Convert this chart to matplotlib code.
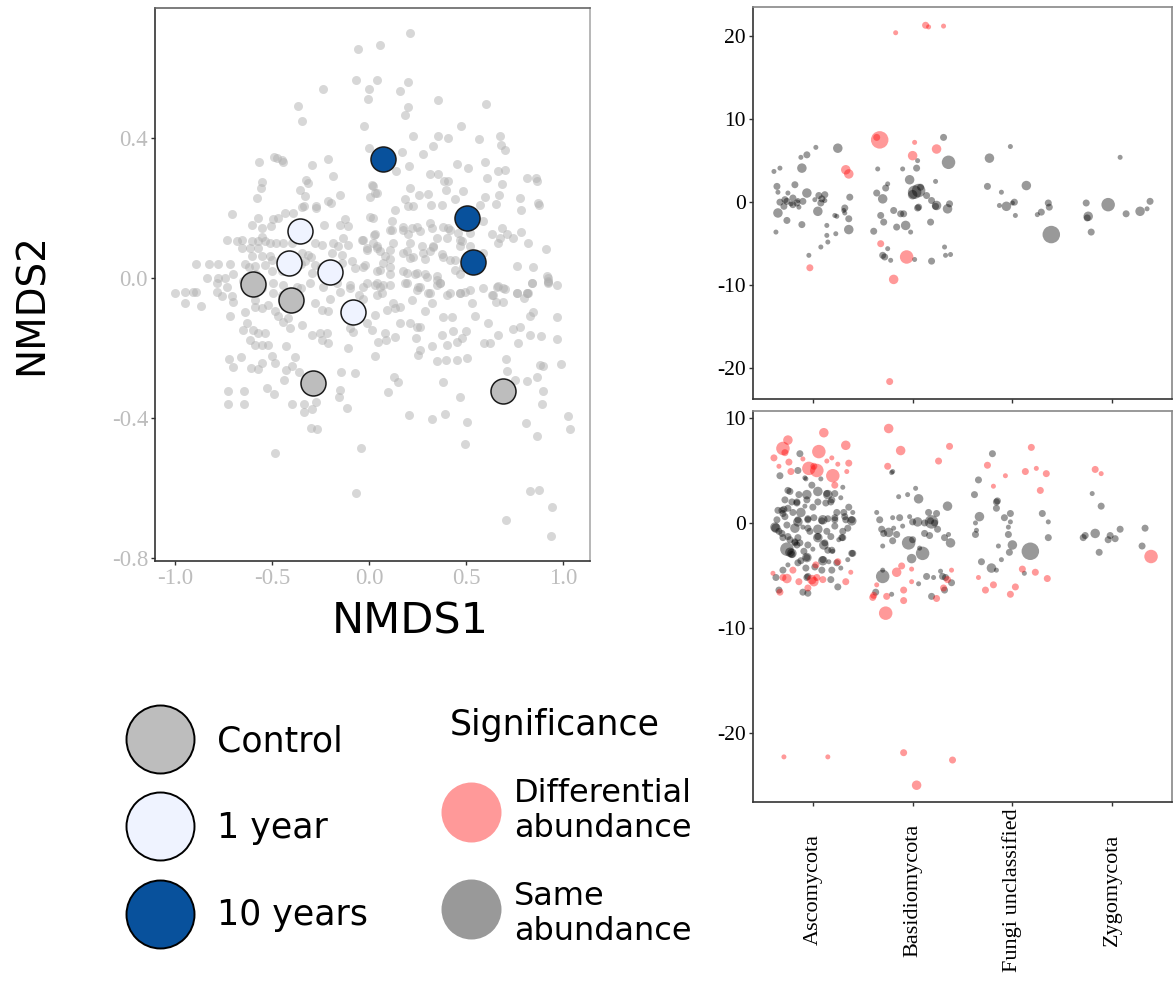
import numpy as np
import matplotlib
matplotlib.use("Agg")
import matplotlib.pyplot as plt

W, H = 1176, 982
SERIF = "Liberation Serif"
SANS = "DejaVu Sans"

# ---------------- NMDS data ----------------
bg_points = [
    (-0.057,0.654),(-0.067,0.566),(0.0,0.54),(-0.005,0.511),(-0.237,0.54),(-0.366,0.491),(-0.345,0.449),(-0.026,0.434),
    (0.0,0.371),(-0.567,0.331),(-0.49,0.346),(-0.475,0.343),(-0.443,0.331),(-0.45,0.337),(-0.294,0.323),(-0.211,0.34),
    (-0.186,0.291),(-0.325,0.28),(-0.315,0.27),(-0.55,0.274),(-0.556,0.258),(-0.356,0.251),(-0.33,0.234),(-0.577,0.229),
    (-0.211,0.22),(-0.195,0.215),(-0.149,0.237),(-0.273,0.206),(-0.275,0.2),(-0.345,0.203),(-0.335,0.206),(-0.706,0.183),
    (-0.572,0.171),(-0.495,0.169),(-0.47,0.172),(-0.433,0.186),(-0.39,0.186),(-0.603,0.151),(-0.552,0.143),(-0.505,0.149),
    (-0.232,0.151),(-0.15,0.151),(-0.124,0.169),(-0.108,0.149),(-0.732,0.109),(-0.68,0.106),(-0.655,0.109),(-0.603,0.106),
    (-0.572,0.106),(-0.536,0.106),(-0.552,0.117),(-0.51,0.1),(-0.48,0.1),(-0.443,0.1),(-0.397,0.1),(-0.278,0.1),
    (-0.242,0.094),(-0.186,0.1),(-0.16,0.091),(-0.134,0.114),(-0.108,0.094),(-0.036,0.109),(-0.01,0.086),(-0.655,0.086),
    (-0.613,0.086),(-0.572,0.086),(-0.552,0.063),(-0.51,0.063),(-0.603,0.063),(-0.892,0.04),(-0.825,0.04),(-0.778,0.04),
    (-0.716,0.04),(-0.835,0.0),(-0.778,0.0),(-0.742,0.0),(-0.64,0.04),(-0.59,0.034),(-0.536,0.037),(-0.5,0.02),
    (-0.33,0.049),(-0.278,0.037),(-0.294,0.014),(-0.139,0.043),(-0.088,0.049),(-0.072,0.029),(-0.02,0.037),(-0.19,0.071),
    (-0.139,0.066),(-0.345,0.071),(-0.314,0.066),
    (0.211,0.7),(0.058,0.666),(0.043,0.566),(0.201,0.561),(0.16,0.533),(0.354,0.507),(0.605,0.497),(0.2,0.489),
    (0.186,0.466),(0.474,0.433),(0.228,0.406),(0.354,0.406),(0.409,0.4),(0.565,0.398),(0.675,0.405),(0.679,0.381),
    (0.701,0.364),(0.332,0.378),(0.28,0.355),(0.168,0.36),(0.204,0.321),(0.137,0.306),(0.455,0.325),(0.508,0.314),
    (0.598,0.331),(0.314,0.298),(0.354,0.298),(0.387,0.276),(0.409,0.278),(0.667,0.305),(0.701,0.307),(0.61,0.286),
    (0.813,0.286),(0.859,0.286),(0.864,0.276),(0.211,0.257),(0.395,0.25),(0.486,0.248),(0.687,0.267),(0.259,0.238),
    (0.306,0.241),(0.022,0.262),(0.031,0.243),(0.186,0.224),(0.203,0.205),(0.228,0.205),(0.318,0.209),(0.375,0.209),
    (0.443,0.225),(0.598,0.231),(0.655,0.211),(0.672,0.238),(0.778,0.228),(0.783,0.193),(0.873,0.214),(0.876,0.208),
    (0.134,0.193),(0.572,0.209),(0.022,0.171),(0.117,0.162),(0.177,0.145),(0.22,0.143),(0.263,0.133),(0.323,0.143),
    (0.409,0.143),(0.46,0.127),(0.4,0.114),(0.349,0.114),(0.589,0.162),(0.632,0.124),(0.684,0.143),(0.675,0.114),
    (0.71,0.124),(0.744,0.114),(0.782,0.131),(0.031,0.124),(0.117,0.138),(0.203,0.124),(0.022,0.1),(0.039,0.09),
    (0.122,0.1),(0.211,0.1),(0.271,0.09),(0.332,0.09),(0.478,0.105),(0.469,0.09),(0.52,0.09),(0.667,0.1),
    (0.821,0.1),(0.911,0.082),(0.057,0.076),(0.082,0.063),(0.108,0.053),(0.194,0.076),(0.211,0.057),(0.289,0.053),
    (0.314,0.076),(0.375,0.067),(0.443,0.05),(0.589,0.071),(0.761,0.035),(0.847,0.03),(0.915,0.005),(0.924,0.0),
    (0.177,0.019),(0.237,0.01),(0.289,0.01),(0.349,0.005),(0.443,0.023),(0.469,0.01),(0.108,0.01),(0.04,0.02),
    (0.015,0.266),(0.041,0.243),(0.005,0.231),(-0.031,0.109),(0.005,0.174),(0.026,0.123),(-0.01,0.08),(0.041,0.086),
    (0.072,0.043),(-0.031,0.031),(0.108,0.137),(0.175,0.137),(0.247,0.146),(0.314,0.157),(0.381,0.146),(0.418,0.137),
    (0.469,0.109),(0.521,0.129),(0.108,0.08),(0.175,0.071),(0.227,0.06),(0.278,0.071),(0.33,0.089),(0.381,0.06),
    (0.418,0.051),(0.485,0.031),(0.196,0.014),(0.247,0.014),(0.299,0.003),(0.35,-0.006),(0.108,0.031),(0.057,0.023),
    (-0.784,-0.014),(-0.732,-0.026),(-0.629,-0.014),(-0.562,-0.02),(-0.495,-0.014),(-0.443,-0.02),(-0.371,-0.026),
    (-0.304,-0.014),(-0.237,-0.026),(-0.165,-0.014),(-0.098,-0.02),(-0.031,-0.026),(0.041,-0.014),(0.108,-0.02),
    (0.196,-0.014),(0.263,-0.026),(0.314,-0.043),(0.366,-0.014),(0.469,-0.043),(0.521,-0.034),(0.639,-0.049),
    (0.691,-0.029),(0.763,-0.043),(0.814,-0.043),(0.84,-0.014),(0.923,-0.014),(-0.01,-0.014),(0.057,-0.026),
    (0.247,-0.034),(0.35,-0.02),(0.418,-0.043),(0.495,-0.04),(0.588,-0.029),(0.66,-0.026),(0.82,-0.043),(0.923,-0.011),
    (-0.62,0.03),(-0.5,0.05),(-0.45,0.02),(-0.35,0.04),(-0.3,0.06),(-0.25,0.03),(-0.55,-0.03),(-0.45,-0.05),
    (-0.35,-0.03),(-0.15,-0.04),(-0.05,-0.05),(-0.2,-0.06),(-0.1,-0.03),(-0.65,-0.01),(-0.7,0.01),(-0.58,0.01),
    (-1.0,-0.044),(-0.948,-0.039),(-0.905,-0.039),(-0.893,-0.039),(-0.95,-0.072),(-0.866,-0.08),(-0.785,-0.039),
    (-0.76,-0.052),(-0.707,-0.052),(-0.699,-0.068),(-0.716,-0.109),(-0.639,-0.098),(-0.588,-0.063),(-0.588,-0.082),
    (-0.553,-0.087),(-0.519,-0.077),(-0.493,-0.044),(-0.485,-0.096),(-0.467,-0.11),(-0.442,-0.125),(-0.416,-0.115),
    (-0.63,-0.13),(-0.648,-0.149),(-0.596,-0.149),(-0.57,-0.158),(-0.536,-0.158),(-0.613,-0.177),(-0.588,-0.192),
    (-0.553,-0.192),(-0.519,-0.192),(-0.407,-0.144),(-0.347,-0.134),(-0.295,-0.163),(-0.252,-0.158),(-0.218,-0.158),
    (-0.244,-0.177),(-0.209,-0.185),(-0.278,-0.072),(-0.244,-0.091),(-0.209,-0.096),(-0.429,-0.194),(-0.109,-0.201),
    (-0.72,-0.232),(-0.703,-0.255),(-0.661,-0.225),(-0.61,-0.258),(-0.57,-0.261),(-0.55,-0.244),(-0.502,-0.223),
    (-0.482,-0.242),(-0.429,-0.263),(-0.398,-0.252),(-0.381,-0.225),(-0.359,-0.269),(-0.438,-0.293),(-0.146,-0.27),
    (-0.072,-0.271),(-0.728,-0.323),(-0.643,-0.323),(-0.526,-0.315),(-0.488,-0.331),(-0.149,-0.32),(-0.155,-0.339),
    (-0.728,-0.361),(-0.643,-0.361),(-0.397,-0.359),(-0.337,-0.36),(-0.333,-0.382),(-0.295,-0.374),(-0.273,-0.355),
    (-0.115,-0.373),(-0.299,-0.428),(-0.266,-0.432),(-0.483,-0.499),(-0.041,-0.487),(-0.067,-0.616),
    (-0.01,-0.129),(0.031,-0.106),(-0.098,-0.143),(-0.08,-0.154),(-0.06,-0.08),(-0.03,-0.06),
    (0.031,-0.02),(0.074,-0.02),(0.04,-0.049),(0.065,-0.044),(0.091,-0.091),(0.134,-0.087),(0.16,-0.082),(0.125,-0.072),
    (0.186,-0.015),(0.254,-0.025),(0.306,-0.044),(0.323,-0.072),(0.366,-0.015),(0.22,-0.063),(0.289,-0.096),
    (0.246,-0.139),(0.263,-0.139),(0.211,-0.13),(0.16,-0.13),(0.014,-0.149),(0.082,-0.158),(0.048,-0.182),(0.088,-0.177),
    (0.134,-0.168),(0.031,-0.223),(0.242,-0.172),(0.263,-0.206),(0.254,-0.22),(0.323,-0.196),(0.377,-0.163),
    (0.402,-0.192),(0.431,-0.153),(0.452,-0.182),(0.478,-0.172),(0.5,-0.153),(0.349,-0.237),(0.397,-0.234),
    (0.452,-0.234),(0.503,-0.23),(0.38,-0.113),(0.426,-0.113),(0.4,-0.049),(0.469,-0.044),(0.529,-0.072),(0.546,-0.11),
    (0.615,-0.13),(0.663,-0.163),(0.594,-0.187),(0.624,-0.187),(0.632,-0.049),(0.655,-0.068),(0.692,-0.068),
    (0.663,-0.023),(0.701,-0.032),(0.761,-0.044),(0.799,-0.058),(0.813,-0.042),(0.744,-0.147),(0.778,-0.141),
    (0.83,-0.109),(0.844,-0.098),(0.766,-0.185),(0.83,-0.163),(0.887,-0.166),(0.967,-0.113),(0.971,-0.174),
    (0.704,-0.233),(0.713,-0.265),(0.753,-0.293),(0.816,-0.296),(0.864,-0.284),(0.881,-0.248),(0.899,-0.251),
    (0.899,-0.323),(0.988,-0.246),(0.1,-0.325),(0.131,-0.282),(0.148,-0.298),(0.38,-0.297),(0.471,-0.341),
    (0.206,-0.392),(0.323,-0.404),(0.39,-0.39),(0.503,-0.411),(0.497,-0.474),(0.892,-0.361),(0.808,-0.416),
    (0.864,-0.452),(1.027,-0.394),(1.036,-0.432),(0.83,-0.61),(0.876,-0.606),(0.943,-0.656),(0.704,-0.692),
    (0.94,-0.737),(0.967,-0.02),(0.924,-0.01),(0.838,-0.015),
]
bg_x = [p[0] for p in bg_points]
bg_y = [p[1] for p in bg_points]

groups = ["Control", "1 year", "10 years"]
group_colors = {"Control": "#bdbdbd", "1 year": "#eff3ff", "10 years": "#08519c"}
sample_group = ["Control"] * 4 + ["1 year"] * 4 + ["10 years"] * 3
sample_x = [-0.60, -0.40, -0.29, 0.69, -0.356, -0.41, -0.20, -0.08, 0.07, 0.505, 0.536]
sample_y = [-0.017, -0.063, -0.30, -0.323, 0.134, 0.043, 0.017, -0.097, 0.34, 0.171, 0.046]

# ---------------- Fold-change data ----------------
phyla = ["Ascomycota", "Basidiomycota", "Fungi unclassified", "Zygomycota"]

# (jittered x, log2 fold change, abundance class, significant)
top_points = [
    (1.83,20.4,1,1),(2.13,21.3,2,1),(2.16,21.1,1,1),(2.31,21.2,1,1),
    (1.67,7.5,5,1),(1.64,7.8,2,1),(2.02,7.2,1,1),(2.00,5.6,3,1),(2.24,6.4,3,1),
    (1.33,3.9,3,1),(1.36,3.4,3,1),(0.97,-7.9,2,1),(1.68,-5.0,2,1),(1.81,-9.3,3,1),
    (1.94,-6.6,4,1),(1.77,-21.6,2,1),
    (0.61,3.7,1,0),(0.67,4.1,1,0),(0.89,4.1,3,0),(1.03,6.6,1,0),(0.88,5.4,1,0),(0.94,5.7,2,0),(1.25,6.5,3,0),
    (0.64,1.9,2,0),(0.65,1.2,1,0),(0.82,2.1,2,0),(0.75,1.1,1,0),(0.67,0.0,2,0),(0.94,1.1,3,0),
    (1.06,0.8,2,0),(1.09,0.4,2,0),(1.12,0.9,2,0),(1.08,-0.1,2,0),(1.12,0.2,1,0),(1.02,0.3,1,0),
    (1.37,0.6,2,0),(1.65,4.0,1,0),(1.64,1.1,2,0),(1.73,1.7,2,0),(1.75,2.2,1,0),(1.70,0.4,3,0),
    (1.90,4.0,1,0),(1.97,2.7,3,0),(2.04,4.1,2,0),(2.05,5.0,1,0),(2.02,1.2,4,0),(2.06,1.4,4,0),
    (2.23,2.5,1,0),(2.31,7.8,2,0),(2.36,4.8,4,0),(2.14,0.8,2,0),(2.19,0.2,2,0),
    (2.75,1.9,2,0),(2.77,5.3,3,0),(2.98,6.7,1,0),(2.89,1.2,1,0),(3.14,2.0,3,0),(4.08,5.4,1,0),
    (3.96,-0.3,4,0),(4.38,0.1,2,0),
    (0.84,-0.1,2,0),(0.80,-0.3,2,0),(0.86,-0.6,1,0),(0.78,-0.2,1,0),(0.90,0.1,2,0),(0.74,0.1,2,0),
    (0.72,0.3,2,0),(0.80,0.5,2,0),(0.85,0.2,1,0),(0.71,-0.5,2,0),
    (0.65,-1.3,3,0),(0.74,-2.2,2,0),(0.63,-3.6,1,0),(0.89,-2.7,2,0),(1.05,-1.1,3,0),(1.14,-4.0,1,0),
    (1.23,-3.8,1,0),(1.14,-2.8,1,0),(1.22,-1.6,1,0),(1.24,-1.7,1,0),(1.32,-1.3,1,0),(1.31,-1.0,1,0),
    (1.32,-0.7,2,0),(1.36,-2.0,2,0),(1.36,-3.3,3,0),(1.08,-5.4,1,0),(0.96,-6.4,1,0),(1.15,-4.8,1,0),
    (1.61,-3.5,2,0),(1.68,-1.6,2,0),(1.71,-2.4,2,0),(1.70,-6.4,2,0),(1.72,-6.6,2,0),(1.75,-5.6,1,0),
    (1.78,-7.0,1,0),(1.81,-1.0,2,0),(1.88,-1.4,2,0),(1.91,-1.4,2,0),(1.93,-2.8,3,0),(1.84,-3.0,2,0),
    (1.98,-3.6,1,0),(2.02,-6.9,1,0),(2.05,-0.7,2,0),(2.06,-0.6,2,0),(2.00,0.9,3,0),(2.08,1.8,2,0),
    (2.18,-2.4,2,0),(2.19,-7.1,2,0),(2.24,-0.4,3,0),(2.23,-0.5,2,0),(2.35,-0.8,3,0),(2.32,-5.4,1,0),
    (2.33,-6.4,1,0),(2.38,-6.3,1,0),(2.37,-0.2,2,0),
    (2.87,-0.4,1,0),(2.94,-0.5,3,0),(3.03,-1.6,1,0),(3.25,-1.5,1,0),(3.29,-1.2,2,0),(3.36,-0.1,2,0),
    (3.37,-0.6,2,0),(3.39,-3.9,5,0),(3.02,0.0,2,0),(3.00,-0.1,1,0),
    (3.74,-0.1,2,0),(3.76,-1.7,3,0),(3.75,-1.9,2,0),(3.79,-3.6,2,0),(4.14,-1.4,2,0),(4.28,-1.1,3,0),(4.35,-0.8,1,0),
]

bottom_points = [
    (0.61,6.2,2,1),(0.66,5.4,1,1),(0.70,7.1,4,1),(0.75,7.9,3,1),(0.76,5.8,2,1),(0.78,4.9,2,1),(0.72,6.7,2,1),
    (0.90,6.1,1,1),(0.96,5.2,4,1),(1.01,5.4,2,1),(1.04,5.0,4,1),(1.06,6.8,4,1),(1.11,8.6,3,1),(1.14,5.9,1,1),
    (1.19,6.2,1,1),(1.20,4.5,4,1),(1.22,3.6,2,1),(1.25,5.6,1,1),(1.33,7.4,3,1),(1.36,5.7,2,1),(1.34,4.9,1,1),
    (1.03,-4.0,2,1),(1.25,-3.7,2,1),(0.60,-4.8,1,1),(0.70,-5.2,2,1),(0.74,-5.3,3,1),(0.80,-4.5,2,1),
    (0.86,-5.6,2,1),(0.99,-5.4,3,1),(1.01,-5.6,3,1),(1.04,-5.2,2,1),(1.10,-5.4,2,1),(1.33,-5.6,2,1),
    (1.38,-4.7,1,1),(0.67,-6.6,2,1),(0.95,-6.2,2,1),
    (1.76,9.0,3,1),(1.88,6.9,3,1),(1.75,5.4,2,1),(2.26,5.9,2,1),(2.37,7.3,2,1),
    (1.84,-4.7,3,1),(1.89,-4.1,2,1),(1.99,-4.4,1,1),(1.99,-5.6,1,1),(2.39,-4.5,1,1),(2.35,-5.4,2,1),
    (1.64,-5.9,1,1),(1.61,-6.9,2,1),(1.60,-7.1,2,1),(1.74,-7.0,2,1),(1.91,-6.4,2,1),(1.91,-7.4,2,1),
    (2.24,-7.2,2,1),(2.31,-6.2,2,1),(1.73,-8.6,4,1),
    (2.75,5.5,2,1),(2.81,3.5,1,1),(2.93,4.5,1,1),(3.19,7.2,2,1),(3.13,4.9,2,1),(3.24,5.2,1,1),
    (3.34,4.7,2,1),(3.28,3.1,2,1),(3.10,-4.4,2,1),(3.23,-4.7,2,1),(2.66,-5.2,1,1),(2.81,-5.9,2,1),
    (2.73,-6.4,2,1),(3.03,-6.1,2,1),(2.98,-6.8,2,1),(3.35,-5.3,2,1),
    (3.83,5.1,2,1),(3.89,4.7,1,1),(4.39,-3.2,4,1),
    (0.71,-22.3,1,1),(1.15,-22.3,1,1),(1.91,-21.9,2,1),(2.04,-25.0,3,1),(2.40,-22.6,2,1),
    (0.87,6.6,2,0),(0.67,4.5,2,0),(0.93,4.2,1,0),(0.77,3.0,2,0),(0.86,2.7,2,0),(0.94,2.7,3,0),(1.05,3.0,3,0),
    (1.15,2.7,3,0),(1.22,2.8,2,0),(0.84,2.0,2,0),(0.79,2.0,2,0),(1.05,2.0,2,0),(1.13,1.9,2,0),(1.18,2.0,2,0),
    (0.75,1.4,2,0),(0.80,1.0,2,0),(0.71,1.3,2,0),(0.69,1.2,2,0),(0.64,0.3,2,0),(0.72,0.6,2,0),(0.88,1.0,3,0),
    (0.95,0.4,2,0),(1.01,0.5,2,0),(1.10,0.3,3,0),(1.09,0.2,2,0),(1.15,0.4,2,0),(1.22,0.5,2,0),(1.24,1.0,2,0),
    (1.31,1.0,2,0),(1.33,0.3,2,0),(1.39,0.2,3,0),(1.40,1.0,1,0),
    (0.63,-0.5,3,0),(0.74,-0.2,2,0),(0.85,0.1,3,0),(0.82,-0.5,3,0),(0.90,-0.4,1,0),(0.97,-0.8,2,0),
    (1.05,-0.6,3,0),(1.05,-1.4,3,0),(1.14,-0.8,2,0),(1.22,-0.3,2,0),(1.30,-0.8,2,0),(0.69,-1.0,2,0),
    (0.70,-1.4,2,0),(0.77,-1.6,2,0),(0.82,-1.8,2,0),(0.84,-2.1,2,0),(0.85,-1.4,2,0),(0.74,-2.5,4,0),
    (0.77,-2.8,3,0),(0.79,-3.0,2,0),(0.87,-1.9,2,0),(0.91,-2.7,2,0),(0.95,-2.1,2,0),(1.00,-2.5,1,0),
    (1.11,-2.1,3,0),(1.15,-2.6,2,0),(1.20,-2.7,1,0),(1.26,-1.6,1,0),(1.30,-1.4,2,0),(1.40,-2.9,2,0),
    (0.94,-3.3,2,0),(1.10,-3.6,3,0),(1.16,-3.7,1,0),(1.09,-4.5,2,0),(1.19,-4.5,2,0),(0.93,-4.3,2,0),
    (0.63,-5.2,2,0),(0.94,-5.2,2,0),(1.18,-5.4,2,0),(1.25,-6.1,2,0),(0.66,-6.4,2,0),(0.90,-6.6,2,0),
    (0.95,-6.7,2,0),(0.70,0.9,2,0),(0.92,1.6,1,0),(1.00,1.5,2,0),(1.28,2.4,1,0),(1.36,1.5,2,0),
    (0.66,-0.8,2,0),(1.18,-1.3,2,0),(1.35,-0.5,2,0),(0.88,-3.6,2,0),(1.28,-4.3,1,0),(0.75,-4.0,1,0),
    (1.35,-3.5,1,0),(0.99,3.6,2,0),(1.08,4.2,1,0),(1.30,3.4,1,0),
    (0.85,5.0,2,0),(0.92,4.3,1,0),(0.75,3.1,2,0),(0.84,1.9,2,0),(0.72,2.2,2,0),(0.94,2.2,2,0),(1.14,2.8,2,0),
    (1.19,2.2,2,0),(1.32,0.6,2,0),(1.39,0.3,2,0),(1.22,0.3,2,0),(0.95,0.3,2,0),(0.85,0.3,2,0),(0.65,1.2,2,0),
    (0.62,-0.4,3,0),(0.75,-1.3,2,0),(0.82,-1.9,2,0),(1.05,-1.3,2,0),(1.12,-1.9,2,0),(1.19,-2.6,2,0),
    (1.39,-2.9,2,0),(1.29,-1.4,2,0),(0.95,-0.5,2,0),(0.94,-3.3,3,0),(1.10,-3.5,2,0),(1.02,-4.2,2,0),
    (0.85,-3.8,2,0),(0.79,-2.9,3,0),(1.24,-3.8,2,0),(0.70,-4.5,2,0),(0.95,-5.1,2,0),
    (1.79,4.8,1,0),(1.80,4.9,1,0),(1.86,2.5,1,0),(1.95,2.7,1,0),(2.03,3.3,1,0),(2.06,2.3,3,0),(1.64,1.0,1,0),
    (1.67,0.3,2,0),(1.69,-0.6,2,0),(1.71,-1.0,2,0),(1.76,-0.9,3,0),(1.84,-1.1,2,0),(1.80,0.5,1,0),
    (1.87,0.5,2,0),(1.80,-1.7,2,0),(1.70,-2.2,1,0),(1.96,-1.9,4,0),(2.00,-1.6,2,0),(2.05,0.1,3,0),
    (2.00,0.1,2,0),(2.10,-2.9,4,0),(2.07,-2.4,1,0),(1.99,-3.4,3,0),(2.16,1.0,2,0),(2.18,0.2,2,0),
    (2.24,0.9,2,0),(2.19,0.1,4,0),(2.12,0.0,2,0),(2.22,0.0,2,0),(2.25,-0.6,2,0),(2.12,-1.0,2,0),
    (2.17,-1.2,2,0),(2.35,1.6,3,0),(2.32,-1.4,2,0),(2.36,-1.1,1,0),(2.38,-1.9,3,0),(1.90,-0.3,1,0),
    (1.81,-0.5,1,0),(1.97,0.6,1,0),(1.70,-4.5,1,0),(1.70,-5.1,4,0),(2.14,-5.1,2,0),(2.21,-5.2,1,0),
    (2.28,-4.6,1,0),(2.30,-5.1,2,0),(2.33,-5.2,2,0),(2.39,-5.7,2,0),(1.63,-6.6,2,0),(1.79,-6.8,1,0),
    (2.06,-5.8,1,0),(2.19,-7.0,2,0),(2.32,-6.4,2,0),
    (2.80,6.6,2,0),(2.66,4.1,2,0),(2.62,2.7,2,0),(2.84,2.0,2,0),(2.85,2.1,2,0),(2.84,1.4,2,0),(2.67,0.6,3,0),
    (2.63,0.0,1,0),(2.64,-0.7,1,0),(2.63,-1.1,2,0),(2.92,0.5,2,0),(2.98,0.9,2,0),(2.98,0.1,1,0),
    (2.96,-0.4,1,0),(2.96,-1.1,2,0),(3.00,-2.1,3,0),(2.97,-2.8,2,0),(2.86,-2.2,1,0),(2.89,-3.5,1,0),
    (2.69,-3.7,2,0),(2.79,-4.3,3,0),(2.84,-4.5,1,0),(3.18,-2.7,5,0),(3.30,0.9,2,0),(3.36,0.1,1,0),
    (3.36,-1.4,2,0),(3.12,-4.8,1,0),
    (3.80,2.8,1,0),(3.89,1.6,2,0),(3.71,-1.4,2,0),(3.73,-1.2,2,0),(3.83,-1.0,3,0),(3.87,-2.8,2,0),
    (3.96,-1.6,2,0),(3.98,-1.2,2,0),(4.03,-1.5,2,0),(4.08,-0.6,2,0),(4.33,-0.5,2,0),(4.30,-2.2,2,0),
]

# ---------------- helpers ----------------
size_diam_px = {1: 5.0, 2: 7.0, 3: 9.5, 4: 13.5, 5: 17.5}
def area(cls):
    return (size_diam_px[cls] * 0.72) ** 2

def px_axes(fig, l, t, r, b):
    return fig.add_axes([l / W, 1 - b / H, (r - l) / W, (b - t) / H])

fig = plt.figure(figsize=(W / 100, H / 100), dpi=100)
fig.patch.set_facecolor("white")

# ---------------- NMDS panel ----------------
ax = px_axes(fig, 155, 8, 590, 561)
ax.scatter(bg_x, bg_y, s=(9 * 0.72) ** 2, color="#b0b0b0", alpha=0.5, linewidths=0, zorder=2)
for g in groups:
    xs = [x for x, gg in zip(sample_x, sample_group) if gg == g]
    ys = [y for y, gg in zip(sample_y, sample_group) if gg == g]
    ax.scatter(xs, ys, s=(25 * 0.72) ** 2, color=group_colors[g], edgecolors="#1a1a1a",
               linewidths=1.1, zorder=3)
ax.set_xlim(-1.103, 1.139)
ax.set_ylim(-0.809, 0.771)
ax.set_xticks([-1.0, -0.5, 0.0, 0.5, 1.0])
ax.set_xticklabels(["-1.0", "-0.5", "0.0", "0.5", "1.0"])
ax.set_yticks([-0.8, -0.4, 0.0, 0.4])
ax.set_yticklabels(["-0.8", "-0.4", "0.0", "0.4"])
ax.tick_params(length=3, width=1, color="#333333", labelcolor="#bdbdbd", labelsize=16.5, pad=2)
for lab in ax.get_xticklabels() + ax.get_yticklabels():
    lab.set_fontfamily(SERIF)
ax.spines["left"].set_color("#333333")
ax.spines["bottom"].set_color("#333333")
ax.spines["top"].set_color("#666666")
ax.spines["right"].set_color("#aaaaaa")
for sp in ax.spines.values():
    sp.set_linewidth(1.2)
fig.text(410 / W, 1 - 622 / H, "NMDS1", fontsize=31, family=SANS, ha="center", va="center")
fig.text(32 / W, 1 - 304 / H, "NMDS2", fontsize=28, family=SANS, ha="center", va="center", rotation=90)

# ---------------- fold-change panels ----------------
def fc_panel(l, t, r, b, pts, ylim, yticks):
    a = px_axes(fig, l, t, r, b)
    for sig, col in [(0, "black"), (1, "red")]:
        sel = [p for p in pts if p[3] == sig]
        a.scatter([p[0] for p in sel], [p[1] for p in sel], s=[area(p[2]) for p in sel],
                  color=col, alpha=0.4, linewidths=0, zorder=2)
    a.set_xlim(0.4, 4.6)
    a.set_ylim(*ylim)
    a.set_xticks(range(1, len(phyla) + 1))
    a.set_xticklabels([])
    a.set_yticks(yticks)
    a.set_yticklabels([str(v) for v in yticks])
    a.tick_params(length=3, width=1, color="#333333", labelsize=15.5, pad=2)
    for lab in a.get_yticklabels():
        lab.set_fontfamily(SERIF)
    a.spines["left"].set_color("#333333")
    a.spines["bottom"].set_color("#333333")
    a.spines["top"].set_color("#888888")
    a.spines["right"].set_color("#888888")
    for sp in a.spines.values():
        sp.set_linewidth(1.2)
    return a

ax_top = fc_panel(753, 7, 1172, 399, top_points, (-23.7, 23.5), [-20, -10, 0, 10, 20])
ax_bot = fc_panel(753, 411, 1172, 802, bottom_points, (-26.6, 10.67), [-20, -10, 0, 10])
for i, name in enumerate(phyla, start=1):
    ax_bot.text(i, -0.225, name, transform=ax_bot.get_xaxis_transform(), rotation=90,
                ha="center", va="center", fontsize=16, family=SERIF)

# ---------------- legends ----------------
lg = fig.add_axes([0, 0, 1, 1], zorder=-1)
lg.set_xlim(0, W)
lg.set_ylim(H, 0)
lg.axis("off")
leg_y = [739, 826, 914]
for g, yy in zip(groups, leg_y):
    lg.scatter([160], [yy], s=(68 * 0.72) ** 2, color=group_colors[g], edgecolors="black", linewidths=1.4)
lg.text(217, 752, "Control", fontsize=25, family=SANS, va="baseline")
lg.text(217, 838, "1 year", fontsize=25, family=SANS, va="baseline")
lg.text(217, 925, "10 years", fontsize=25, family=SANS, va="baseline")
lg.text(450, 735, "Significance", fontsize=25, family=SANS, va="baseline")
lg.scatter([471], [812], s=(60 * 0.72) ** 2, color="red", alpha=0.4, linewidths=0)
lg.scatter([471], [909], s=(60 * 0.72) ** 2, color="black", alpha=0.4, linewidths=0)
lg.text(514, 802, "Differential", fontsize=23, family=SANS, va="baseline")
lg.text(514, 837, "abundance", fontsize=23, family=SANS, va="baseline")
lg.text(514, 905, "Same", fontsize=23, family=SANS, va="baseline")
lg.text(514, 940, "abundance", fontsize=23, family=SANS, va="baseline")

fig.savefig("out.png", dpi=100)
